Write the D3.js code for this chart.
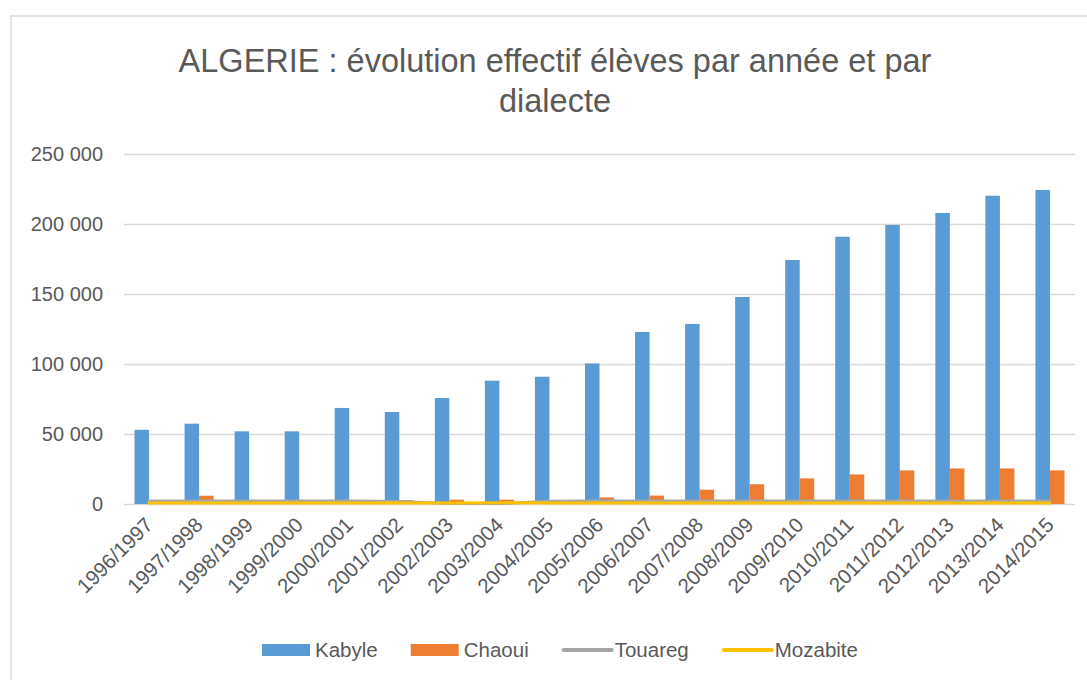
<!DOCTYPE html>
<html>
<head>
<meta charset="utf-8">
<script src="https://cdn.jsdelivr.net/npm/d3@7"></script>
<style>
  body { margin: 0; background: #fff; }
  svg text { font-family: "Liberation Sans", Arial, sans-serif; fill: #595959; }
</style>
</head>
<body>
<svg id="chart" width="1087" height="680"></svg>
<script>
var years = ["1996/1997","1997/1998","1998/1999","1999/2000","2000/2001","2001/2002","2002/2003",
  "2003/2004","2004/2005","2005/2006","2006/2007","2007/2008","2008/2009","2009/2010",
  "2010/2011","2011/2012","2012/2013","2013/2014","2014/2015"];
var kabyle = [53000, 57400, 51900, 51900, 68600, 65700, 75700, 88100, 90900, 100400,
  122900, 128600, 147900, 174300, 190900, 199300, 207900, 220200, 224300];
var chaoui = [1000, 5900, 1000, 1000, 1000, 2600, 3100, 3100, 1000, 4700,
  6000, 10200, 14100, 18300, 21100, 24000, 25400, 25400, 24000];
var touareg = [2100, 2100, 2100, 2100, 2100, 1800, 300, 300, 1900, 2100,
  2100, 2100, 2100, 2100, 2100, 2100, 2100, 2100, 2100];
var mozabite = [700, 700, 700, 700, 700, 700, 800, 900, 800, 700,
  700, 700, 700, 700, 700, 700, 700, 700, 700];
var yTicks = [0, 50000, 100000, 150000, 200000, 250000];

var barSeries = [
  {name: "Kabyle", values: kabyle, color: "#5B9BD5"},
  {name: "Chaoui", values: chaoui, color: "#ED7D31"}
];
var lineSeries = [
  {name: "Touareg", values: touareg, color: "#A5A5A5"},
  {name: "Mozabite", values: mozabite, color: "#FFC000"}
];

var svg = d3.select("#chart");
var plotLeft = 124, plotRight = 1075, plotTop = 154, plotBottom = 504;

// chart frame
svg.append("rect")
  .attr("x", 11).attr("y", 16)
  .attr("width", 1100).attr("height", 700)
  .attr("fill", "#fff")
  .attr("stroke", "#d9d9d9")
  .attr("stroke-width", 1.5);

// title
var title = svg.append("text")
  .attr("text-anchor", "middle")
  .style("font-size", "32.5px");
title.append("tspan").attr("x", 555).attr("y", 72)
  .text("ALGERIE : évolution effectif élèves par année et par");
title.append("tspan").attr("x", 555).attr("y", 112)
  .text("dialecte");

var x = d3.scaleBand()
  .domain(years)
  .range([plotLeft, plotRight])
  .paddingInner(0.42)
  .paddingOuter(0.21);
var xSub = d3.scaleBand()
  .domain(barSeries.map(function(s){ return s.name; }))
  .range([0, x.bandwidth()]);
var y = d3.scaleLinear()
  .domain([0, 250000])
  .range([plotBottom, plotTop]);

var fr = d3.formatLocale({decimal: ",", thousands: " ", grouping: [3], currency: ["", ""]});

// gridlines + y labels
var yAxis = svg.append("g")
  .attr("transform", "translate(" + plotLeft + ",0)")
  .call(d3.axisLeft(y).tickValues(yTicks).tickFormat(fr.format(",")).tickSize(-(plotRight - plotLeft)).tickPadding(21));
yAxis.select(".domain").remove();
yAxis.selectAll(".tick line").attr("stroke", "#d9d9d9").attr("stroke-width", 1.3);
yAxis.selectAll(".tick text")
  .style("font-size", "20px")
  .style("font-family", "'Liberation Sans', Arial, sans-serif")
  .attr("fill", "#595959");

// bars
var groups = svg.append("g").selectAll("g")
  .data(years)
  .enter().append("g")
  .attr("transform", function(d){ return "translate(" + x(d) + ",0)"; });
groups.selectAll("rect")
  .data(function(d, i){ return barSeries.map(function(s){ return {name: s.name, v: s.values[i], color: s.color}; }); })
  .enter().append("rect")
  .attr("x", function(d){ return xSub(d.name); })
  .attr("width", xSub.bandwidth())
  .attr("y", function(d){ return y(d.v); })
  .attr("height", function(d){ return y(0) - y(d.v); })
  .attr("fill", function(d){ return d.color; });

// lines
var line = d3.line()
  .x(function(d, i){ return x(years[i]) + x.bandwidth() / 2; })
  .y(function(d){ return y(d); });
svg.append("g").selectAll("path")
  .data(lineSeries)
  .enter().append("path")
  .attr("d", function(s){ return line(s.values); })
  .attr("fill", "none")
  .attr("stroke", function(s){ return s.color; })
  .attr("stroke-width", 3)
  .attr("stroke-linejoin", "round")
  .attr("stroke-linecap", "round");

// x labels
svg.append("g").selectAll("text")
  .data(years)
  .enter().append("text")
  .attr("text-anchor", "end")
  .attr("transform", function(d){ return "translate(" + (x(d) + x.bandwidth() / 2) + "," + 521 + ") rotate(-45)"; })
  .attr("dy", "0.35em")
  .style("font-size", "20.5px")
  .text(function(d){ return d; });

// legend
var legendItems = barSeries.map(function(s){ return {name: s.name, color: s.color, type: "bar"}; })
  .concat(lineSeries.map(function(s){ return {name: s.name, color: s.color, type: "line"}; }));
var legend = svg.append("g");
var lx = 0, gap = 33;
legendItems.forEach(function(it){
  var g = legend.append("g").attr("transform", "translate(" + lx + ",0)");
  if (it.type == "bar") {
    g.append("rect").attr("x", 0).attr("y", -6).attr("width", 48).attr("height", 12).attr("fill", it.color);
  } else {
    g.append("line").attr("x1", 2).attr("x2", 50).attr("y1", 0).attr("y2", 0)
      .attr("stroke", it.color).attr("stroke-width", 4).attr("stroke-linecap", "round");
  }
  var t = g.append("text").attr("x", 53).attr("y", 0).attr("dy", "0.35em")
    .style("font-size", "20.5px").text(it.name);
  lx += 53 + t.node().getComputedTextLength() + gap;
});
lx -= gap;
legend.attr("transform", "translate(" + (560 - lx / 2) + ",650)");
</script>
</body>
</html>
